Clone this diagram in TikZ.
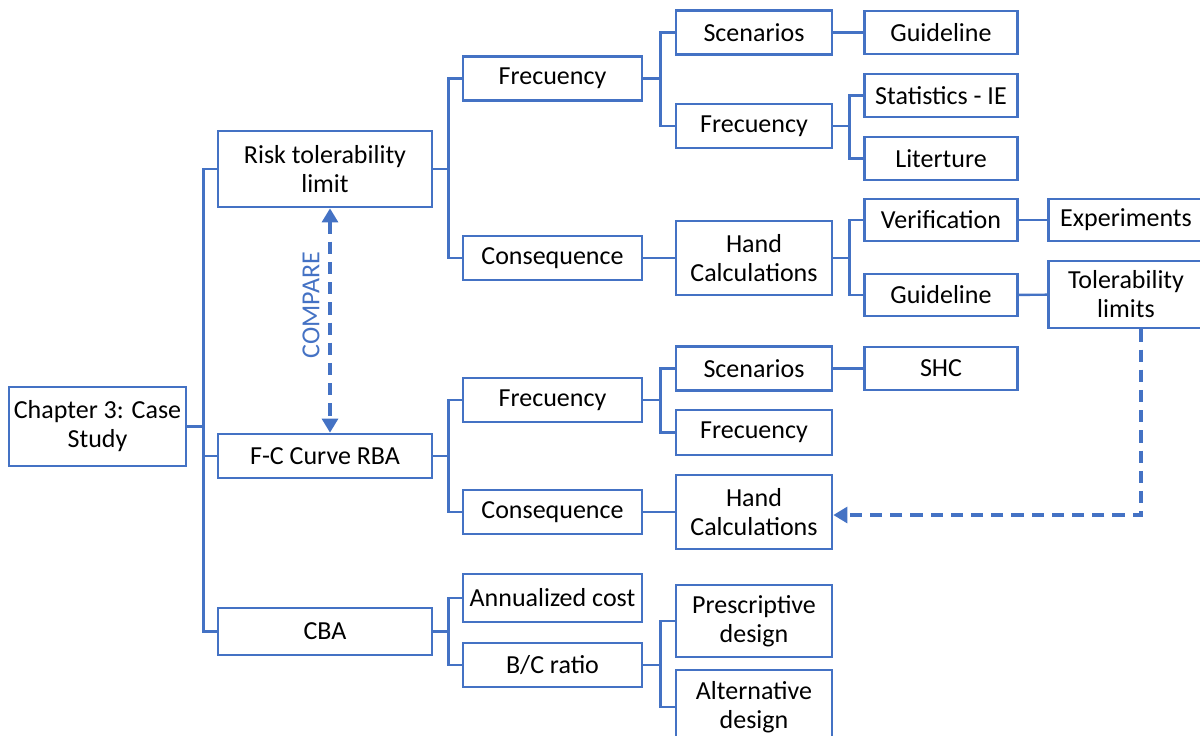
\documentclass[tikz,border=0pt]{standalone}
\usepackage{fontspec}
\setmainfont{Carlito}
\usepackage{tikz}
\usetikzlibrary{arrows.meta, positioning, calc}
\usepackage{xcolor}
\definecolor{boxblue}{RGB}{68,114,196}

\begin{document}
\begin{tikzpicture}[
    x=0.02cm, y=-0.02cm,
    box/.style={rectangle, draw=boxblue, line width=1.5pt, inner sep=1pt, align=center, text=black, font=\fontsize{14.8}{16.5}\selectfont},
    root/.style={box, minimum width=3.54cm, minimum height=1.58cm},
    lvlone/.style={box, minimum width=4.28cm, minimum height=0.88cm},
    lvltwo/.style={box, minimum width=3.58cm, minimum height=0.88cm},
    lvlthree/.style={box, minimum width=3.12cm, minimum height=0.88cm},
    lvlfour/.style={box, minimum width=3.06cm, minimum height=0.86cm},
    lvlfive/.style={box, minimum width=3.10cm, minimum height=0.84cm},
    link/.style={draw=boxblue, line width=1.4pt},
    dashlink/.style={draw=boxblue, line width=2pt, dash pattern=on 7pt off 4.5pt, -{Triangle[width=9pt,length=8pt]}},
]
    \useasboundingbox (0,0) rectangle (1200,735);

    % Root
    \node[root] (chap) at (97.5,426.5) {Chapter 3: Case\\Study};

    % First level
    \node[lvlone, minimum height=1.52cm] (risk) at (325,169) {Risk tolerability\\limit};
    \node[lvlone] (fc) at (325,456) {F-C Curve RBA};
    \node[lvlone, minimum height=0.94cm] (cba) at (325,631.5) {CBA};

    % Second level
    \node[lvltwo] (freqA) at (552.5,78.5) {Frecuency};
    \node[lvltwo] (consA) at (552.5,258) {Consequence};
    \node[lvltwo] (freqB) at (552.5,400) {Frecuency};
    \node[lvltwo] (consB) at (552.5,512) {Consequence};
    \node[lvltwo, minimum height=0.96cm] (annual) at (552.5,598) {Annualized cost};
    \node[lvltwo] (bc) at (552.5,665) {B/C ratio};

    % Third level
    \node[lvlthree] (scenA) at (754,32.5) {Scenarios};
    \node[lvlthree] (freqAA) at (754,126) {Frecuency};
    \node[lvlthree, minimum height=1.48cm] (hcA) at (754,258) {Hand\\Calculations};
    \node[lvlthree] (scenB) at (754,368.5) {Scenarios};
    \node[lvlthree, minimum height=0.9cm] (freqBB) at (754,432.5) {Frecuency};
    \node[lvlthree, minimum height=1.48cm] (hcB) at (754,512) {Hand\\Calculations};
    \node[lvlthree, minimum height=1.44cm] (presc) at (754,621) {Prescriptive\\design};
    \node[lvlthree, minimum height=1.48cm] (alt) at (754,707) {Alternative\\design};

    % Fourth level
    \node[lvlfour] (guideA) at (941,32.5) {Guideline};
    \node[lvlfour] (stat) at (941,95.5) {Statistics - IE};
    \node[lvlfour] (lit) at (941,158.5) {Literture};
    \node[lvlfour, minimum height=0.84cm] (verif) at (941,220) {Verification};
    \node[lvlfour, minimum height=0.84cm] (guideB) at (941,295) {Guideline};
    \node[lvlfour] (shc) at (941,368.5) {SHC};

    % Fifth level
    \node[lvlfive] (exper) at (1126,220) {Experiments};
    \node[lvlfive, minimum height=1.34cm] (tol) at (1126,294.5) {Tolerability\\limits};

    % Tree connectors
    \draw[link] (chap.east) -- ++(16,0) coordinate (b0) |- (risk.west) (b0) |- (fc.west) (b0) |- (cba.west);
    \draw[link] (risk.east) -- ++(15,0) coordinate (b1) |- (freqA.west) (b1) |- (consA.west);
    \draw[link] (fc.east) -- ++(15,0) coordinate (b2) |- (freqB.west) (b2) |- (consB.west);
    \draw[link] (cba.east) -- ++(15,0) coordinate (b3) |- (annual.west) (b3) |- (bc.west);
    \draw[link] (freqA.east) -- ++(17,0) coordinate (b4) |- (scenA.west) (b4) |- (freqAA.west);
    \draw[link] (consA) -- (hcA);
    \draw[link] (freqB.east) -- ++(17,0) coordinate (b5) |- (scenB.west) (b5) |- (freqBB.west);
    \draw[link] (consB) -- (hcB);
    \draw[link] (bc.east) -- ++(17,0) coordinate (b6) |- (presc.west) (b6) |- (alt.west);
    \draw[link] (scenA) -- (guideA);
    \draw[link] (freqAA.east) -- ++(16,0) coordinate (b7) |- (stat.west) (b7) |- (lit.west);
    \draw[link] (hcA.east) -- ++(16,0) coordinate (b8) |- (verif.west) (b8) |- (guideB.west);
    \draw[link] (scenB) -- (shc);
    \draw[link] (verif) -- (exper);
    \draw[link] (guideB) -- (tol);

    % Dashed links
    \draw[dashlink, {Triangle[width=9pt,length=8pt]}-{Triangle[width=9pt,length=8pt]}] ([xshift=0.1cm]risk.south) -- ([xshift=0.1cm]fc.north);
    \node[rotate=90, text=boxblue, font=\fontsize{14.8}{16.5}\selectfont] (cmp) at (311,305) {COMPARE};
    \draw[dashlink] ([xshift=0.3cm]tol.south) |- ([yshift=-0.06cm]hcB.east);
\end{tikzpicture}
\end{document}
